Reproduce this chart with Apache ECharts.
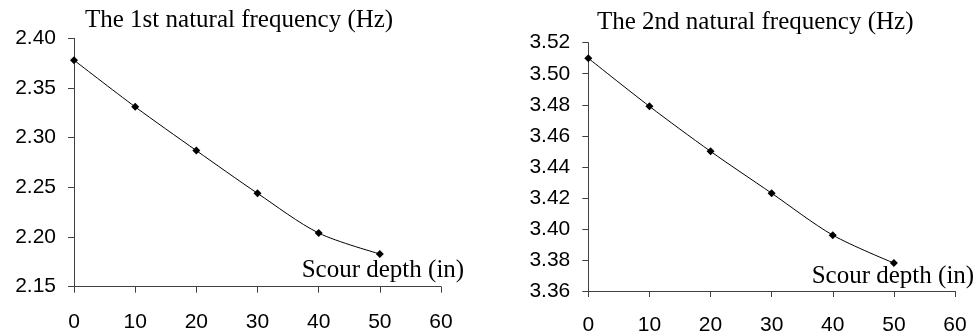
<!DOCTYPE html>
<html>
<head>
<meta charset="utf-8">
<script src="https://cdn.jsdelivr.net/npm/echarts@6/dist/echarts.min.js"></script>
<style>
html,body{margin:0;padding:0;background:#fff;}
#c{width:977px;height:336px;}
</style>
</head>
<body>
<div id="c"></div>
<script>
var depths = [0, 10, 20, 30, 40, 50];
var freq1 = [2.378, 2.331, 2.287, 2.244, 2.204, 2.183];
var freq2 = [3.510, 3.479, 3.450, 3.423, 3.396, 3.378];
var xTicks = [0, 10, 20, 30, 40, 50, 60];
var titles = ['The 1st natural frequency (Hz)', 'The 2nd natural frequency (Hz)'];
var xName = 'Scour depth (in)';

function pairs(xs, ys) { return xs.map(function (x, i) { return [x, ys[i]]; }); }

var axisColor = '#404040';
var labelFont = { fontFamily: 'Liberation Sans', fontSize: 21, color: '#000' };

function xAxis(gi, margin) {
  return {
    type: 'value', gridIndex: gi, min: xTicks[0], max: xTicks[xTicks.length - 1], interval: 10,
    axisLine: { lineStyle: { color: axisColor, width: 1 } },
    axisTick: { inside: false, length: 6, lineStyle: { color: axisColor } },
    axisLabel: Object.assign({ margin: margin }, labelFont),
    splitLine: { show: false }
  };
}
function yAxis(gi, mn, mx, iv) {
  return {
    type: 'value', gridIndex: gi, min: mn, max: mx, interval: iv,
    axisLine: { show: true, lineStyle: { color: axisColor, width: 1 } },
    axisTick: { show: true, length: 6, lineStyle: { color: axisColor } },
    axisLabel: Object.assign({ margin: 18, formatter: function (v) { return v.toFixed(2); } }, labelFont),
    splitLine: { show: false }
  };
}
function series(xi, data) {
  return {
    type: 'line', xAxisIndex: xi, yAxisIndex: xi, data: data, smooth: 0.3,
    symbol: 'diamond', symbolSize: 8, showSymbol: true,
    lineStyle: { color: '#000', width: 1 },
    itemStyle: { color: '#000' },
    animation: false
  };
}

var chart = echarts.init(document.getElementById('c'), null, { renderer: 'canvas' });
chart.setOption({
  backgroundColor: '#fff',
  animation: false,
  grid: [
    { left: 74, top: 38.3, width: 367, height: 248.4 },
    { left: 588.3, top: 42.7, width: 366.7, height: 249 }
  ],
  xAxis: [xAxis(0, 25), xAxis(1, 24)],
  yAxis: [yAxis(0, 2.15, 2.40, 0.05), yAxis(1, 3.36, 3.52, 0.02)],
  series: [series(0, pairs(depths, freq1)), series(1, pairs(depths, freq2))],
  graphic: [
    { type: 'text', x: 85, y: 20, style: { text: titles[0], font: '25px "Liberation Serif"', fill: '#000', verticalAlign: 'middle' } },
    { type: 'text', x: 597, y: 22, style: { text: titles[1], font: '25px "Liberation Serif"', fill: '#000', verticalAlign: 'middle' } },
    { type: 'text', x: 301.7, y: 270, style: { text: xName, font: '25px "Liberation Serif"', fill: '#000', verticalAlign: 'middle' } },
    { type: 'text', x: 811.7, y: 276.7, style: { text: xName, font: '25px "Liberation Serif"', fill: '#000', verticalAlign: 'middle' } }
  ]
});
</script>
</body>
</html>
